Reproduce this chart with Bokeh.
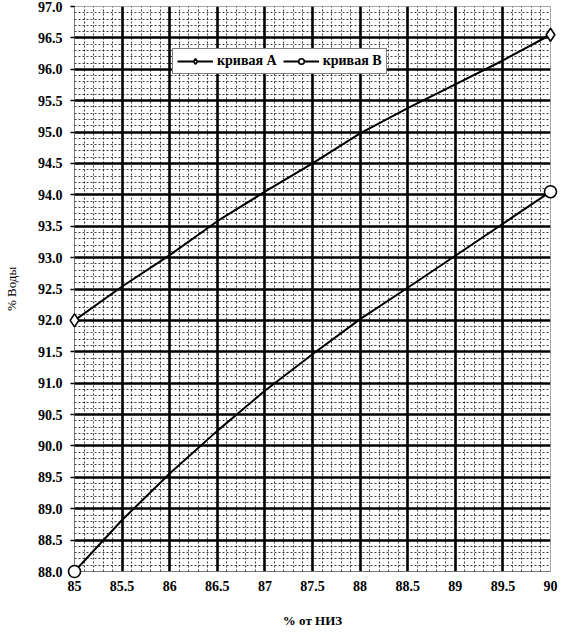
import numpy as np
from bokeh.plotting import figure
from bokeh.models import FixedTicker, Grid, Legend, LegendItem, Range1d
from bokeh.embed import file_html
from bokeh.resources import INLINE

# ---- data ----
x_vals = [85.0, 85.5, 86.0, 86.5, 87.0, 87.5, 88.0, 88.5, 89.0, 89.5, 90.0]
curve_a = [92.0, 92.54, 93.04, 93.58, 94.05, 94.5, 94.98, 95.38, 95.76, 96.14, 96.55]
curve_b = [88.0, 88.82, 89.56, 90.24, 90.88, 91.46, 92.02, 92.52, 93.03, 93.54, 94.05]
series_names = ["кривая А", "кривая В"]
x_ticks = [85, 85.5, 86, 86.5, 87, 87.5, 88, 88.5, 89, 89.5, 90]
x_tick_labels = ["85", "85.5", "86", "86.5", "87", "87.5", "88", "88.5", "89", "89.5", "90"]
y_ticks = [88.0, 88.5, 89.0, 89.5, 90.0, 90.5, 91.0, 91.5, 92.0, 92.5, 93.0,
           93.5, 94.0, 94.5, 95.0, 95.5, 96.0, 96.5, 97.0]
y_tick_labels = ["%.1f" % t for t in y_ticks]
x_title = "% от НИЗ"
y_title = "% Воды"

FONT = "Liberation Serif"

p = figure(width=558, height=630, output_backend="svg", toolbar_location=None,
           x_range=Range1d(85, 90), y_range=Range1d(88, 97),
           min_border_left=73, min_border_right=8, min_border_top=6, min_border_bottom=59)
p.background_fill_color = "white"
p.outline_line_color = "#555555"
p.outline_line_dash = "1 1"
p.outline_line_width = 1

# default grids off, custom graph-paper grid
p.xgrid.visible = False
p.ygrid.visible = False
x_minor = [v for v in np.round(np.arange(85.1, 90.0, 0.1), 1) if abs(v * 2 - round(v * 2)) > 1e-6]
y_minor = [v for v in np.round(np.arange(88.1, 97.0, 0.1), 1) if abs(v * 2 - round(v * 2)) > 1e-6]
for dim, tk in ((0, x_minor), (1, y_minor)):
    g = Grid(dimension=dim, ticker=FixedTicker(ticks=list(tk)),
             grid_line_color="#111111", grid_line_width=1, grid_line_dash="2 2", grid_line_alpha=0.8)
    p.add_layout(g)
for dim, tk in ((0, x_ticks[1:-1]), (1, y_ticks[1:-1])):
    g = Grid(dimension=dim, ticker=FixedTicker(ticks=list(tk)),
             grid_line_color="black", grid_line_width=2.6)
    p.add_layout(g)

# axes
p.xaxis.ticker = FixedTicker(ticks=x_ticks)
p.xaxis.major_label_overrides = {t: l for t, l in zip(x_ticks, x_tick_labels)}
p.yaxis.ticker = FixedTicker(ticks=y_ticks)
p.yaxis.major_label_overrides = {t: l for t, l in zip(y_ticks, y_tick_labels)}
for ax in (p.xaxis, p.yaxis):
    ax.major_label_text_font = FONT
    ax.major_label_text_font_style = "bold"
    ax.major_label_text_font_size = "14px"
    ax.major_label_text_color = "black"
    ax.axis_label_text_font = FONT
    ax.axis_label_text_color = "black"
    ax.minor_tick_line_color = None
    ax.axis_line_color = "#444444"
    ax.axis_line_dash = "1 1"
p.xaxis.major_tick_line_color = None
p.xaxis.major_label_standoff = 3
p.xaxis.axis_label = x_title
p.xaxis.axis_label_text_font_style = "bold"
p.xaxis.axis_label_text_font_size = "13px"
p.xaxis.axis_label_standoff = 19
p.yaxis.major_tick_out = 4
p.yaxis.major_tick_in = 0
p.yaxis.major_tick_line_color = "black"
p.yaxis.major_tick_line_width = 1.5
p.yaxis.major_label_standoff = 8
p.yaxis.axis_label = y_title
p.yaxis.axis_label_text_font_style = "normal"
p.yaxis.axis_label_text_font_size = "13px"
p.yaxis.axis_label_standoff = 16

# curves
la = p.line(x_vals, curve_a, line_color="black", line_width=2)
lb = p.line(x_vals, curve_b, line_color="black", line_width=2)
ends = [0, len(x_vals) - 1]
sa = p.scatter([x_vals[i] for i in ends], [curve_a[i] for i in ends], marker="diamond", size=13,
               fill_color="white", line_color="black", line_width=1.6, level="overlay")
sb = p.scatter([x_vals[i] for i in ends], [curve_b[i] for i in ends], marker="circle", size=12,
               fill_color="white", line_color="black", line_width=1.6, level="overlay")

legend = Legend(items=[LegendItem(label=series_names[0], renderers=[la, sa]),
                       LegendItem(label=series_names[1], renderers=[lb, sb])],
                orientation="horizontal", location=(98, 497))
legend.label_text_font = FONT
legend.label_text_font_style = "bold"
legend.label_text_font_size = "14px"
legend.label_text_color = "black"
legend.glyph_width = 36
legend.glyph_height = 14
legend.label_standoff = 4
legend.spacing = 6
legend.padding = 4
legend.margin = 0
legend.border_line_color = "black"
legend.border_line_width = 1
legend.background_fill_color = "white"
legend.background_fill_alpha = 1.0
p.add_layout(legend, "center")

open("out.html", "w").write(file_html(p, INLINE))
